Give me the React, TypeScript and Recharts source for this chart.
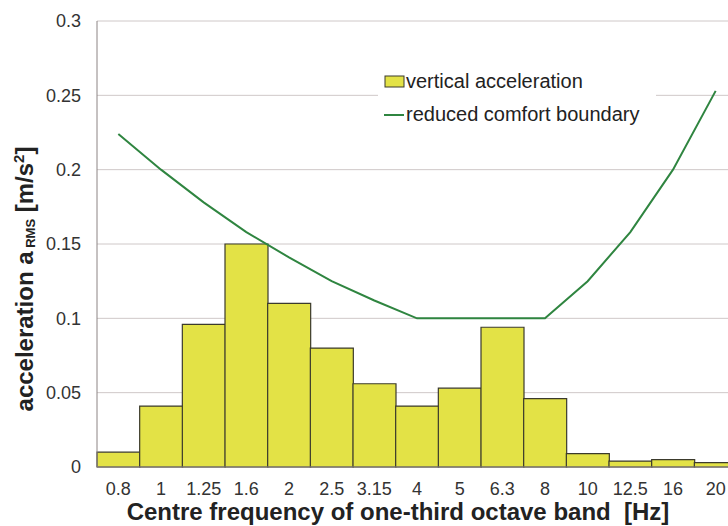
import { ComposedChart, Bar, Line, XAxis, YAxis, CartesianGrid } from 'recharts';

const bands = ['0.8', '1', '1.25', '1.6', '2', '2.5', '3.15', '4', '5', '6.3', '8', '10', '12.5', '16', '20'];
const verticalAcc = [0.010, 0.041, 0.096, 0.150, 0.110, 0.080, 0.056, 0.041, 0.053, 0.094, 0.046, 0.009, 0.004, 0.005, 0.003];
const comfortBoundary = [0.224, 0.2, 0.178, 0.158, 0.141, 0.125, 0.112, 0.1, 0.1, 0.1, 0.1, 0.125, 0.158, 0.2, 0.253];
const yTicks = [0, 0.05, 0.1, 0.15, 0.2, 0.25, 0.3];

const data = bands.map((band, i) => ({
  band,
  vertical: verticalAcc[i],
  boundary: comfortBoundary[i],
}));

const font = '"Liberation Sans", Arial, sans-serif';
const barFill = '#e3e246';
const barStroke = '#3b3a2c';
const lineColor = '#2f8540';

const YTitle = () => (
  <text
    x={33}
    y={279}
    transform="rotate(-90, 33, 279)"
    textAnchor="middle"
    fontFamily={font}
    fontWeight="bold"
    fontSize={24}
    fill="#222"
  >
    <tspan>acceleration a</tspan>
    <tspan fontSize={13} dy={2}>{'\u00a0RMS'}</tspan>
    <tspan dy={-2}>{'\u00a0[m/s'}</tspan>
    <tspan fontSize={15} dy={-9}>2</tspan>
    <tspan dy={9}>]</tspan>
  </text>
);

const XTitle = () => (
  <text x={398} y={520} textAnchor="middle" fontFamily={font} fontWeight="bold" fontSize={24} fill="#222">
    {'Centre frequency of one-third octave band\u00a0 [Hz]'}
  </text>
);

// legend sits over the plot, its white box hides the 0.25 gridline
const LegendBox = () => (
  <div
    style={{
      position: 'absolute',
      left: 378,
      top: 61,
      width: 272,
      background: '#fff',
      padding: '4px 0 4px 6px',
      fontFamily: font,
      fontSize: 20,
      color: '#222',
      lineHeight: '33px',
    }}
  >
    <div style={{ display: 'flex', alignItems: 'center' }}>
      <svg width={22} height={14}>
        <rect x={1} y={1} width={19} height={11} fill={barFill} stroke={barStroke} />
      </svg>
      <span>vertical acceleration</span>
    </div>
    <div style={{ display: 'flex', alignItems: 'center' }}>
      <svg width={22} height={14}>
        <line x1={0} y1={7} x2={20} y2={7} stroke={lineColor} strokeWidth={2} />
      </svg>
      <span>reduced comfort boundary</span>
    </div>
  </div>
);

export default function App() {
  return (
    <div style={{ position: 'fixed', left: 0, top: 0, width: 728, height: 526, overflow: 'hidden', background: '#fff' }}>
      <ComposedChart
        width={740}
        height={526}
        data={data}
        margin={{ top: 21, right: 3, bottom: 0, left: 0 }}
        barCategoryGap={0}
        barGap={0}
      >
        <CartesianGrid vertical={false} stroke="#cfc8c8" />
        <XAxis
          dataKey="band"
          height={59}
          tickLine={false}
          tickMargin={9}
          axisLine={{ stroke: '#8c8484' }}
          tick={{ fontFamily: font, fontSize: 18, fill: '#333' }}
          interval={0}
          label={<XTitle />}
        />
        <YAxis
          width={97}
          domain={[0, 0.3]}
          ticks={yTicks}
          tickLine={false}
          tickMargin={10}
          axisLine={{ stroke: '#8c8484' }}
          tick={{ fontFamily: font, fontSize: 18, fill: '#333' }}
          label={<YTitle />}
        />
        <Bar dataKey="vertical" name="vertical acceleration" fill={barFill} stroke={barStroke} strokeWidth={1.2} isAnimationActive={false} />
        <Line
          dataKey="boundary"
          name="reduced comfort boundary"
          type="linear"
          stroke={lineColor}
          strokeWidth={2}
          dot={false}
          isAnimationActive={false}
        />
      </ComposedChart>
      <LegendBox />
    </div>
  );
}
